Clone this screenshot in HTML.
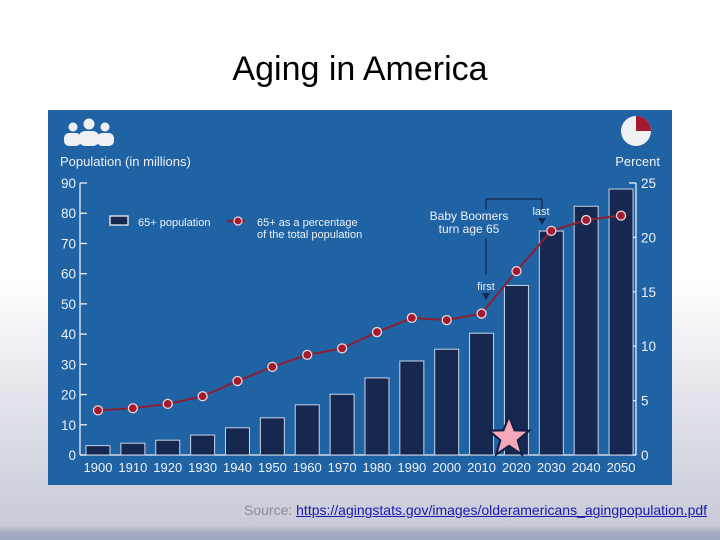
<!DOCTYPE html>
<html><head><meta charset="utf-8"><style>
html,body{margin:0;padding:0}
body{width:720px;height:540px;overflow:hidden;position:relative;font-family:"Liberation Sans",sans-serif;
background:linear-gradient(to bottom,#ffffff 0px,#ffffff 280px,#dcdde6 430px,#c9cbd8 525px,#a3abc3 533px,#9ea7c0 540px);}
#title{position:absolute;left:0;width:720px;top:50px;text-align:center;font-size:34px;color:#000}
#src{position:absolute;left:244px;top:502px;font-size:14px;color:#8a8c98;white-space:nowrap}
#src span{color:#1a1ab0;text-decoration:underline}
svg{position:absolute;left:0;top:0}
</style></head><body>
<div id="title">Aging in America</div>
<svg id="chart" width="720" height="540"></svg>
<div id="src">Source: <span>https://agingstats.gov/images/olderamericans_agingpopulation.pdf</span></div>
<script>
const years=["1900","1910","1920","1930","1940","1950","1960","1970","1980","1990","2000","2010","2020","2030","2040","2050"];
const population=[3.1,3.9,4.9,6.6,9.0,12.3,16.6,20.1,25.5,31.1,35.0,40.3,56.1,74.1,82.3,88.0];
const percent=[4.1,4.3,4.7,5.4,6.8,8.1,9.2,9.8,11.3,12.6,12.4,13.0,16.9,20.6,21.6,22.0];
const leftTicks=[0,10,20,30,40,50,60,70,80,90];
const rightTicks=[0,5,10,15,20,25];
const NS="http://www.w3.org/2000/svg";
const svg=document.getElementById('chart');
function mk(t,a,p){const e=document.createElementNS(NS,t);for(const k in a)e.setAttribute(k,a[k]);(p||svg).appendChild(e);return e;}
const y0=455,yTop=183;
const yL=v=>y0-(v/90)*(y0-yTop);
const yR=v=>y0-(v/25)*(y0-yTop);
const xC=i=>98+i*34.87;
const bw=24;
let e=mk('rect',{x:48,y:110,width:624,height:375,fill:'#1f63a5'});


const white='#eef0f4';
e=mk('line',{x1:80,y1:yTop,x2:80,y2:y0,stroke:white,'stroke-width':1.3});


leftTicks.forEach(v=>{
 mk('line',{x1:80,y1:yL(v),x2:87,y2:yL(v),stroke:white,'stroke-width':1.3});
 const t=mk('text',{x:76,y:yL(v)+5,'text-anchor':'end','font-size':13.5,fill:white});
 t.textContent=v;
 
 
});
e=mk('line',{x1:636,y1:yTop,x2:636,y2:y0,stroke:white,'stroke-width':1.3});


rightTicks.forEach(v=>{
 mk('line',{x1:629,y1:yR(v),x2:636,y2:yR(v),stroke:white,'stroke-width':1.3});
 const t=mk('text',{x:641,y:yR(v)+5,'font-size':13.5,fill:white});
 t.textContent=v;
 
 
});
mk('line',{x1:80,y1:y0,x2:636,y2:y0,stroke:white,'stroke-width':1.3});
years.forEach((yr,i)=>{
 const r=mk('rect',{x:xC(i)-bw/2,y:yL(population[i]),width:bw,height:y0-yL(population[i]),fill:'#172850',stroke:'#c8d4e8','stroke-width':1});
 
 
 const t=mk('text',{x:xC(i),y:472,'text-anchor':'middle','font-size':13,fill:white});
 t.textContent=yr;
 
 
});
const pts=percent.map((p,i)=>xC(i)+','+yR(p)).join(' ');
e=mk('polyline',{points:pts,fill:'none',stroke:'#8c1f32','stroke-width':2});


percent.forEach((p,i)=>{
 const c=mk('circle',{cx:xC(i),cy:yR(p),r:4.5,fill:'#a3192e',stroke:'#f2d7d9','stroke-width':1.3});
 
 
});
function txt(x,y,s,size,anchor,name){const t=mk('text',{x:x,y:y,'font-size':size,fill:white,'text-anchor':anchor||'start'});t.textContent=s;return t;}
txt(60,166,'Population (in millions)',13,'start','left-axis-title');
txt(660,166,'Percent',13,'end','right-axis-title');
const g=mk('g',{fill:'#eef0f4'});


mk('circle',{cx:73,cy:127,r:4.5},g);mk('circle',{cx:89,cy:124,r:5.5},g);mk('circle',{cx:105,cy:127,r:4.5},g);
mk('rect',{x:64,y:133,width:17,height:13,rx:5},g);mk('rect',{x:97,y:133,width:17,height:13,rx:5},g);mk('rect',{x:79,y:131,width:20,height:15,rx:6},g);
const pg=mk('g',{});


mk('circle',{cx:636,cy:131,r:15,fill:'#eef0f4'},pg);
mk('path',{d:'M636,131 L636,116 A15,15 0 0 1 651,131 Z',fill:'#a3192e'},pg);
e=mk('rect',{x:110,y:216,width:18,height:9,fill:'#172850',stroke:white,'stroke-width':1.3});


txt(138,226,'65+ population',11,'start','legend-bar-label');
mk('line',{x1:227,y1:221,x2:245,y2:221,stroke:'#8c1f32','stroke-width':2.5});
e=mk('circle',{cx:238,cy:221,r:4,fill:'#a3192e',stroke:'#f2d7d9','stroke-width':1.2});


txt(257,226,'65+ as a percentage',11,'start','legend-line-label');
txt(257,238,'of the total population',11,'start','legend-line-label-2');
txt(469,220,'Baby Boomers',12,'middle','annotation-title');
txt(469,233,'turn age 65',12,'middle','annotation-subtitle');
mk('polyline',{points:'486,210 486,199 542,199 542,214',fill:'none',stroke:'#172850','stroke-width':1.3});
mk('line',{x1:486,y1:238,x2:486,y2:275,stroke:'#172850','stroke-width':1.3});
txt(541,215,'last',11,'middle','annotation-last');
mk('path',{d:'M538,218 L546,218 L542,225 Z',fill:'#172850'});
txt(486,290,'first',11,'middle','annotation-first');
mk('path',{d:'M482,293 L490,293 L486,300 Z',fill:'#172850'});
e=mk('path',{d:'M509,416 L514.6,430.3 L529,430.7 L517.8,440.2 L521.8,454.5 L509,446 L496.2,454.5 L500.2,440.2 L489,430.7 L503.4,430.3 Z',fill:'#f4a8b8',stroke:'#13204a','stroke-width':2.2});


</script>
</body></html>
